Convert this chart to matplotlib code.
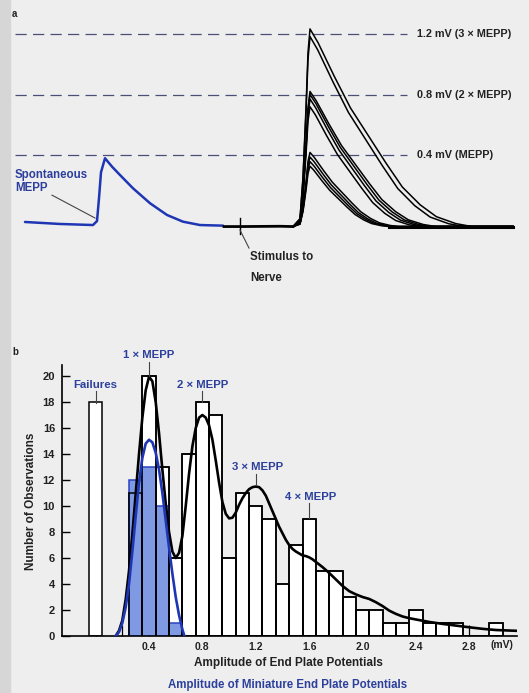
import numpy as np
import matplotlib.pyplot as plt

plt.rcParams['font.family'] = ['Liberation Sans', 'DejaVu Sans']
plt.rcParams['font.weight'] = 'bold'
plt.rcParams['font.size'] = 8

BLUE_TXT = '#2c3f9c'
BLUE_LINE = '#1f36b4'
BLUE_FILL = '#7f99e2'
DASH_COL = '#4b4f78'

# ---- panel a: reference levels ----
levels = [1.2, 0.8, 0.4]
level_labels = ['1.2 mV (3 × MEPP)', '0.8 mV (2 × MEPP)', '0.4 mV (MEPP)']

# spontaneous MEPP trace (time in arbitrary units, mV)
mepp_t = [25, 60, 93, 97, 99, 101, 105, 112, 120, 133, 150, 167, 183, 200, 223]
mepp_v = [-0.036, -0.049, -0.056, -0.03, 0.12, 0.29, 0.382, 0.327, 0.272, 0.185,
          0.087, 0.01, -0.034, -0.056, -0.06]

# evoked end plate potentials
evoked_base = -0.066
prestim_t = [224, 240, 280, 293]
prestim_v = [-0.066, -0.066, -0.064, -0.066]
stim_t = 240
peak_t = 310
epp_peaks = [1.23, 1.18, 0.82, 0.80, 0.77, 0.72, 0.42, 0.39, 0.36, 0.33]
epp_ends = [472, 464, 436, 431, 426, 420, 399, 395, 392, 389]
rise_dt = [-17, -10, -7, -4, -2, 0]
rise_frac = [0.0, 0.04, 0.25, 0.6, 0.88, 1.0]
decay_frac_t = [0.0, 0.05, 0.15, 0.25, 0.36, 0.47, 0.57, 0.68, 0.78, 0.9, 1.0]
decay_frac_v = [1.0, 0.93, 0.76, 0.6, 0.46, 0.32, 0.2, 0.11, 0.05, 0.015, 0.0]
trace_end = 513

# ---- panel b: histogram ----
failures_x = [0.0]
failures_n = [18]
epp_bins = [0.3, 0.4, 0.5, 0.6, 0.7, 0.8, 0.9, 1.0, 1.1, 1.2, 1.3, 1.4, 1.5, 1.6,
            1.7, 1.8, 1.9, 2.0, 2.1, 2.2, 2.3, 2.4, 2.5, 2.6, 2.7, 2.8, 2.9, 3.0]
epp_counts = [11, 20, 13, 6, 14, 18, 17, 6, 11, 10, 9, 4, 7, 9,
              5, 5, 3, 2, 2, 1, 1, 2, 1, 1, 1, 0, 0, 1]
mepp_bins = [0.3, 0.4, 0.5, 0.6]
mepp_counts = [12, 13, 10, 1]

epp_fit_x = [0.15, 0.175, 0.2, 0.225, 0.25, 0.275, 0.3, 0.325, 0.35, 0.375, 0.4, 0.425,
             0.45, 0.475, 0.5, 0.525, 0.55, 0.575, 0.6, 0.625, 0.65, 0.675, 0.7, 0.725,
             0.75, 0.775, 0.8, 0.825, 0.85, 0.875, 0.9, 0.925, 0.95, 0.975, 1.0, 1.025,
             1.05, 1.075, 1.1, 1.125, 1.15, 1.175, 1.2, 1.225, 1.25, 1.275, 1.3, 1.325,
             1.35, 1.375, 1.4, 1.425, 1.45, 1.475, 1.5, 1.525, 1.55, 1.575, 1.6, 1.625,
             1.65, 1.675, 1.7, 1.75, 1.8, 1.85, 1.9, 1.95, 2.0, 2.05, 2.1, 2.15, 2.2,
             2.25, 2.3, 2.35, 2.4, 2.5, 2.6, 2.7, 2.8, 2.9, 3.0, 3.15]
epp_fit_y = [0.0, 0.4, 1.2, 2.8, 5.0, 7.8, 10.9, 14.0, 16.8, 18.9, 19.95, 19.6,
             18.0, 15.6, 12.8, 10.2, 8.0, 6.5, 6.0, 6.4, 7.7, 10.0, 12.5, 14.6,
             16.0, 16.8, 17.0, 16.8, 16.2, 15.1, 13.5, 11.8, 10.3, 9.4, 9.05, 9.1,
             9.5, 10.1, 10.6, 11.0, 11.3, 11.45, 11.5, 11.45, 11.2, 10.8, 10.2, 9.6,
             9.0, 8.4, 7.9, 7.4, 7.0, 6.7, 6.5, 6.35, 6.2, 6.15, 6.05, 5.9,
             5.7, 5.5, 5.3, 4.85, 4.35, 3.85, 3.45, 3.2, 3.0, 2.85, 2.6, 2.3, 1.95,
             1.7, 1.5, 1.37, 1.27, 1.08, 0.93, 0.8, 0.67, 0.55, 0.46, 0.4]
mepp_fit_x = [0.15, 0.175, 0.2, 0.225, 0.25, 0.275, 0.3, 0.325, 0.35, 0.375, 0.4,
              0.425, 0.45, 0.475, 0.5, 0.525, 0.55, 0.575, 0.6, 0.625, 0.65, 0.665]
mepp_fit_y = [0.0, 0.3, 1.0, 2.2, 4.0, 6.5, 9.2, 11.8, 13.7, 14.8, 15.1,
              14.9, 14.1, 12.8, 11.0, 8.9, 6.8, 4.8, 3.0, 1.6, 0.5, 0.0]

peak_labels = ['Failures', '1 × MEPP', '2 × MEPP', '3 × MEPP', '4 × MEPP']
label_x = [0.0, 0.40, 0.805, 1.21, 1.61]
label_y = [19.3, 21.6, 19.3, 13.0, 10.7]
leader_x = [0.0, 0.40, 0.80, 1.2, 1.6]
leader_lo = [17.95, 20.0, 18.0, 11.6, 9.1]
leader_hi = [18.85, 21.1, 18.85, 12.5, 10.2]

fig = plt.figure(figsize=(5.29, 6.93), dpi=100, facecolor='#eeeeee')
fig.patches.append(plt.Rectangle((0, 0), 10 / 529, 1, transform=fig.transFigure,
                                 color='#d6d6d6', zorder=0))

# ---------------- panel a ----------------
ax_a = fig.add_axes([0, 1 - 290 / 693, 1, 290 / 693])
ax_a.set_xlim(0, 529)
ax_a.set_ylim(-0.482, 1.4197)
ax_a.axis('off')

for lv, lab in zip(levels, level_labels):
    ax_a.plot([15, 407], [lv, lv], color=DASH_COL, lw=0.9, dashes=(9, 5))
    ax_a.text(417, lv, lab, fontsize=7.8, va='center', ha='left', color='#222222')

ax_a.plot(mepp_t, mepp_v, color=BLUE_LINE, lw=1.8, solid_capstyle='round')
ax_a.plot(prestim_t, prestim_v, color='black', lw=2.0)

for pk, end in zip(epp_peaks, epp_ends):
    amp = pk - evoked_base
    t = [peak_t + d for d in rise_dt] + [peak_t + f * (end - peak_t) for f in decay_frac_t[1:]]
    v = [evoked_base + amp * f for f in rise_frac] + [evoked_base + amp * f for f in decay_frac_v[1:]]
    t.append(trace_end)
    v.append(evoked_base)
    ax_a.plot(t, v, color='black', lw=1.1)
ax_a.plot([min(epp_ends), trace_end], [evoked_base, evoked_base], color='black', lw=2.2)

ax_a.plot([stim_t, stim_t], [-0.01, -0.115], color='black', lw=1.0)
ax_a.plot([stim_t, 249], [-0.089, -0.207], color='#444444', lw=0.8)
ax_a.text(250, -0.266, 'Stimulus to', fontsize=8.3, va='center', ha='left', color='#222222')
ax_a.text(250, -0.403, 'Nerve', fontsize=8.3, va='center', ha='left', color='#222222')

ax_a.text(15, 0.272, 'Spontaneous', fontsize=8.3, va='center', ha='left', color=BLUE_TXT)
ax_a.text(15, 0.185, 'MEPP', fontsize=8.3, va='center', ha='left', color=BLUE_TXT)
ax_a.plot([52, 95], [0.14, -0.01], color='#444444', lw=0.8)

fig.text(12 / 529, 1 - 14 / 693, 'a', fontsize=7, va='center', color='#222222')
fig.text(12 / 529, 1 - 352 / 693, 'b', fontsize=7, va='center', color='#222222')

# ---------------- panel b ----------------
ax = fig.add_axes([62 / 529, 1 - 636 / 693, (517 - 62) / 529, (636 - 365) / 693])
ax.patch.set_alpha(0)
ax.set_xlim(-0.252, 3.157)
ax.set_ylim(0, 20.85)

ax.bar(failures_x, failures_n, width=0.1, facecolor='white', edgecolor='black', lw=1.1, zorder=2)
ax.bar(epp_bins, epp_counts, width=0.1, facecolor='white', edgecolor='black', lw=1.1, zorder=2)
ax.bar(mepp_bins, mepp_counts, width=0.1, facecolor=BLUE_FILL, edgecolor='#2a44c4', lw=1.1, zorder=3)
ax.bar(epp_bins, epp_counts, width=0.1, fill=False, edgecolor='black', lw=1.1, zorder=4)
ax.plot(epp_fit_x, epp_fit_y, color='black', lw=1.9, zorder=5, solid_joinstyle='round')
ax.plot(mepp_fit_x, mepp_fit_y, color=BLUE_LINE, lw=1.9, zorder=6, solid_joinstyle='round')

for lab, lx, ly, kx, lo, hi in zip(peak_labels, label_x, label_y, leader_x, leader_lo, leader_hi):
    ax.text(lx, ly, lab, fontsize=8.2, ha='center', va='center', color=BLUE_TXT, clip_on=False)
    ax.plot([kx, kx], [lo, hi], color='#444444', lw=0.8, clip_on=False, zorder=6)

for s in ['top', 'right']:
    ax.spines[s].set_visible(False)
for s in ['left', 'bottom']:
    ax.spines[s].set_linewidth(1.2)

ax.set_yticks(np.arange(0, 21, 2))
ax.tick_params(axis='y', direction='in', length=6, width=1, pad=5, labelsize=8)
ax.set_xticks([0.4, 0.8, 1.2, 1.6, 2.0, 2.4, 2.8])
ax.set_xticklabels(['0.4', '0.8', '1.2', '1.6', '2.0', '2.4', '2.8'])
ax.set_xticks(np.arange(0, 3.05, 0.2), minor=True)
ax.tick_params(axis='x', which='both', direction='in', length=8, width=0.9, pad=4, labelsize=7.5)
for lbl in ax.get_xticklabels() + ax.get_yticklabels():
    lbl.set_color('#222222')
ax.text(3.045, -0.7, '(mV)', fontsize=7.5, ha='center', va='center', color='#222222', clip_on=False)

fig.text(288 / 529, 1 - 663 / 693, 'Amplitude of End Plate Potentials', fontsize=8.5,
         ha='center', va='center', color='#222222')
fig.text(288 / 529, 1 - 685 / 693, 'Amplitude of Miniature End Plate Potentials', fontsize=8.3,
         ha='center', va='center', color=BLUE_TXT)
fig.text(31 / 529, 1 - 501 / 693, 'Number of Observations', fontsize=8.5, rotation=90,
         ha='center', va='center', color='#222222')

fig.savefig('out.png', dpi=100, facecolor=fig.get_facecolor())
